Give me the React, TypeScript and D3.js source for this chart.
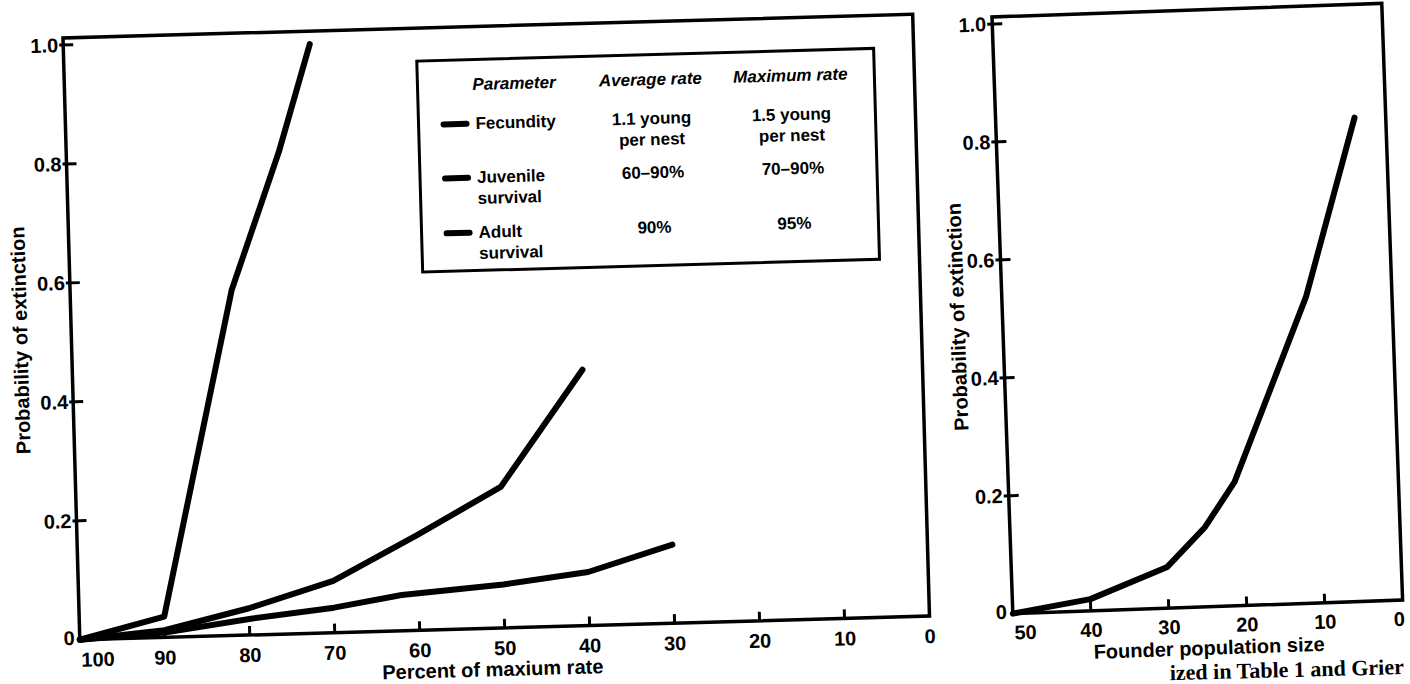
import * as d3 from "d3";

// left panel: percent of maximum rate vs probability of extinction
const percentTicks = [100, 90, 80, 70, 60, 50, 40, 30, 20, 10, 0];
const probTicks = [0, 0.2, 0.4, 0.6, 0.8, 1.0];

const fecundityX = [100, 90, 81, 75, 71];
const fecundityY = [0, 0.035, 0.58, 0.81, 0.99];
const juvenileX = [100, 90, 80, 70, 60, 50, 40];
const juvenileY = [0, 0.012, 0.045, 0.087, 0.16, 0.237, 0.43];
const adultX = [100, 90, 80, 70, 62, 50, 40, 30];
const adultY = [0, 0.008, 0.027, 0.042, 0.06, 0.073, 0.09, 0.132];

// right panel: founder population size
const founderTicks = [50, 40, 30, 20, 10, 0];
const founderX = [50, 40, 30, 25, 21, 11, 4];
const founderY = [0, 0.02, 0.07, 0.135, 0.21, 0.52, 0.82];

// legend table
const legendHeader = ["Parameter", "Average rate", "Maximum rate"];
const legendParams = [["Fecundity"], ["Juvenile", "survival"], ["Adult", "survival"]];
const avgRates = [["1.1 young", "per nest"], ["60\u201390%"], ["90%"]];
const maxRates = [["1.5 young", "per nest"], ["70\u201390%"], ["95%"]];

const caption = "ized in Table 1 and Grier";

const sans = '"Liberation Sans", Arial, Helvetica, sans-serif';
const fmt = (d: number) => (d === 0 ? "0" : d.toFixed(1));

const zip = (xs: number[], ys: number[]) => xs.map((x, i) => [x, ys[i]] as [number, number]);

export default function App() {
  // left panel geometry (the scan is slightly rotated)
  const LW = 850, LH = 602;
  const xL = d3.scaleLinear().domain([100, 0]).range([0, LW]);
  const yL = d3.scaleLinear().domain([0, 1]).range([LH, 7]);
  const lineL = d3.line<[number, number]>().x((d) => xL(d[0])).y((d) => yL(d[1]));

  const RW = 390, RH = 597;
  const xR = d3.scaleLinear().domain([50, 0]).range([0, RW]);
  const yR = d3.scaleLinear().domain([0, 1]).range([RH, 7]);
  const lineR = d3.line<[number, number]>().x((d) => xR(d[0])).y((d) => yR(d[1]));

  const leftSeries = [zip(fecundityX, fecundityY), zip(juvenileX, juvenileY), zip(adultX, adultY)];

  const rowY = [97, 151, 206];
  const rowGap = 21;

  return (
    <svg
      width={1410}
      height={684}
      style={{ position: "absolute", left: 0, top: 0, background: "#fff" }}
      fontFamily={sans}
      fontWeight="bold"
    >
      {/* left panel */}
      <g transform="translate(63,38) rotate(-1.6)">
        <rect x={0} y={0} width={LW} height={LH} fill="none" stroke="#000" strokeWidth={3.5} />
        {probTicks.map((t) => (
          <g key={t}>
            {t > 0 && <line x1={-4} x2={10} y1={yL(t)} y2={yL(t)} stroke="#000" strokeWidth={3} />}
            <text x={-5} y={t === 0 ? LH - 2 : yL(t)} textAnchor="end" dominantBaseline="central" fontSize={20}>
              {fmt(t)}
            </text>
          </g>
        ))}
        {percentTicks.map((t, i) => (
          <g key={t}>
            {i > 0 && i < percentTicks.length - 1 && (
              <line x1={xL(t)} x2={xL(t)} y1={LH} y2={LH - 9} stroke="#000" strokeWidth={3} />
            )}
            <text
              x={i === 0 ? 1 : xL(t)}
              y={LH + 20}
              textAnchor={i === 0 ? "start" : "middle"}
              dominantBaseline="central"
              fontSize={20}
            >
              {t}
            </text>
          </g>
        ))}
        <text x={412} y={LH + 41} textAnchor="middle" dominantBaseline="central" fontSize={20}>
          Percent of maxium rate
        </text>
        <text
          transform={`translate(-51,${LH / 2}) rotate(-90)`}
          textAnchor="middle"
          dominantBaseline="central"
          fontSize={20}
        >
          Probability of extinction
        </text>
        {leftSeries.map((s, i) => (
          <path
            key={i}
            d={lineL(s) ?? ""}
            fill="none"
            stroke="#000"
            strokeWidth={6}
            strokeLinejoin="round"
            strokeLinecap="round"
          />
        ))}

        {/* legend */}
        <rect x={353} y={33} width={457} height={211} fill="#fff" stroke="#000" strokeWidth={3} />
        <text x={408} y={58} fontSize={17} fontStyle="italic" dominantBaseline="central">
          {legendHeader[0]}
        </text>
        <text x={586} y={58} fontSize={17} fontStyle="italic" textAnchor="middle" dominantBaseline="central">
          {legendHeader[1]}
        </text>
        <text x={726} y={58} fontSize={17} fontStyle="italic" textAnchor="middle" dominantBaseline="central">
          {legendHeader[2]}
        </text>
        {legendParams.map((lines, r) => (
          <g key={r}>
            <line x1={378} x2={401} y1={rowY[r]} y2={rowY[r]} stroke="#000" strokeWidth={6} strokeLinecap="round" />
            {lines.map((l, k) => (
              <text key={k} x={410} y={rowY[r] + k * rowGap} fontSize={17} dominantBaseline="central">
                {l}
              </text>
            ))}
            {avgRates[r].map((l, k) => (
              <text key={"a" + k} x={586} y={rowY[r] + k * rowGap} fontSize={17} textAnchor="middle" dominantBaseline="central">
                {l}
              </text>
            ))}
            {maxRates[r].map((l, k) => (
              <text key={"m" + k} x={726} y={rowY[r] + k * rowGap} fontSize={17} textAnchor="middle" dominantBaseline="central">
                {l}
              </text>
            ))}
          </g>
        ))}
      </g>

      {/* right panel */}
      <g transform="translate(992,17) rotate(-2)">
        <rect x={0} y={0} width={RW} height={RH} fill="none" stroke="#000" strokeWidth={3.5} />
        {probTicks.map((t) => (
          <g key={t}>
            {t > 0 && <line x1={-5} x2={10} y1={yR(t)} y2={yR(t)} stroke="#000" strokeWidth={3} />}
            <text x={-6} y={t === 0 ? RH - 2 : yR(t)} textAnchor="end" dominantBaseline="central" fontSize={20}>
              {fmt(t)}
            </text>
          </g>
        ))}
        {founderTicks.map((t, i) => (
          <g key={t}>
            {i > 0 && i < founderTicks.length - 1 && (
              <line x1={xR(t)} x2={xR(t)} y1={RH} y2={RH - 9} stroke="#000" strokeWidth={3} />
            )}
            <text
              x={i === 0 ? 1 : i === founderTicks.length - 1 ? xR(t) - 4 : xR(t)}
              y={RH + 19}
              textAnchor={i === 0 ? "start" : "middle"}
              dominantBaseline="central"
              fontSize={20}
            >
              {t}
            </text>
          </g>
        ))}
        <text x={195} y={RH + 41} textAnchor="middle" dominantBaseline="central" fontSize={20}>
          Founder population size
        </text>
        <text
          transform={`translate(-45,${RH / 2}) rotate(-90)`}
          textAnchor="middle"
          dominantBaseline="central"
          fontSize={20}
        >
          Probability of extinction
        </text>
        <path
          d={lineR(zip(founderX, founderY)) ?? ""}
          fill="none"
          stroke="#000"
          strokeWidth={6}
          strokeLinejoin="round"
          strokeLinecap="round"
        />
      </g>

      {/* caption fragment at the bottom edge */}
      <text
        transform="translate(1404,674) rotate(-1.5)"
        textAnchor="end"
        fontFamily='"Liberation Serif", "Times New Roman", serif'
        fontSize={22}
      >
        {caption}
      </text>
    </svg>
  );
}
